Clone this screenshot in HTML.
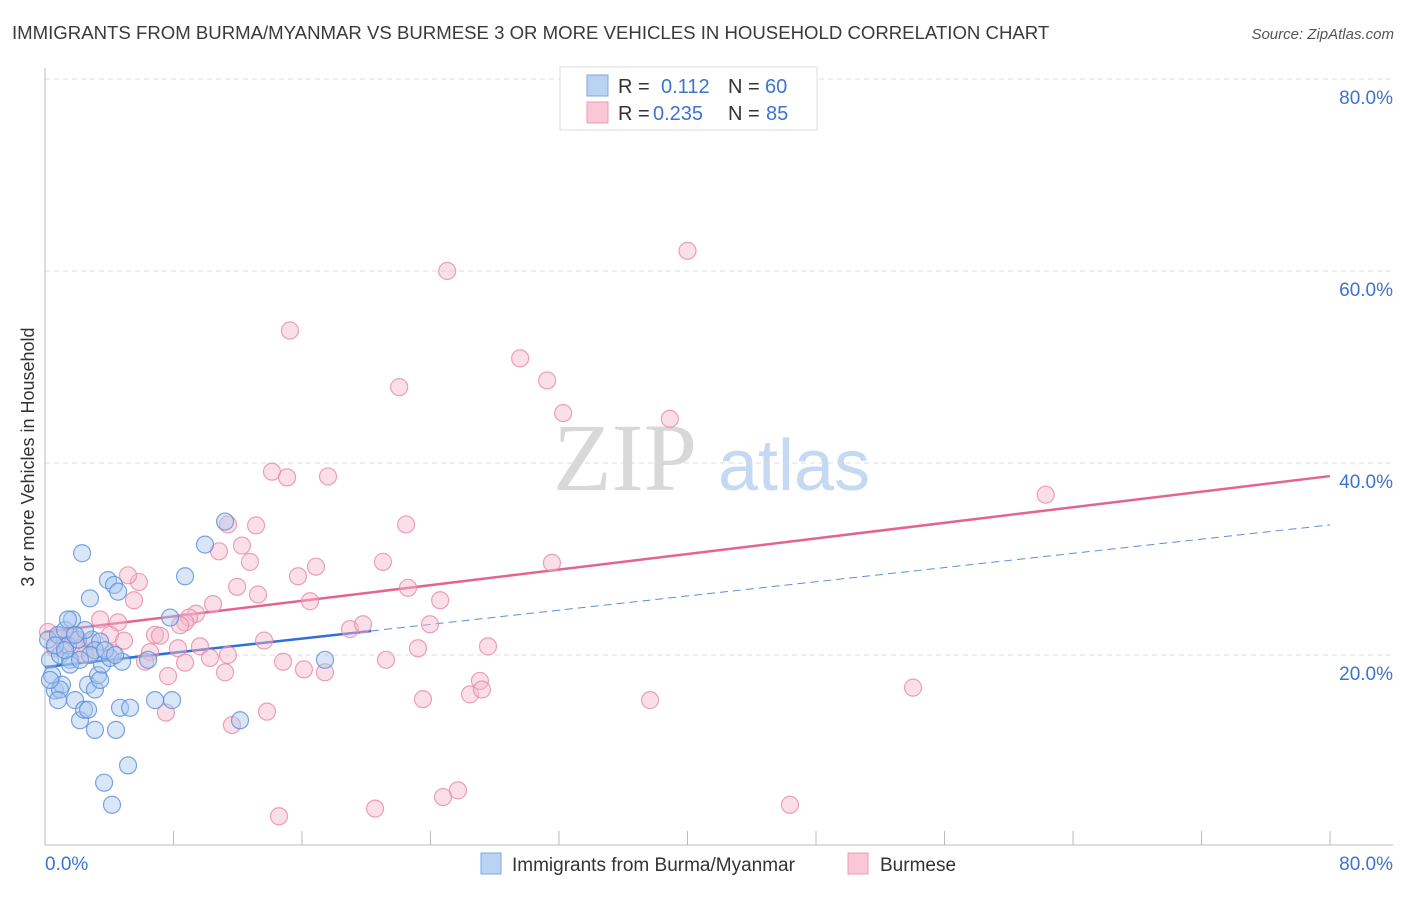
<!DOCTYPE html>
<html><head><meta charset="utf-8">
<style>
body{margin:0;background:#fff;font-family:"Liberation Sans",sans-serif;}
svg text{font-family:"Liberation Sans",sans-serif;}
</style></head>
<body>
<svg id="chart" width="1406" height="892" xmlns="http://www.w3.org/2000/svg">
<text x="12" y="39" font-size="18.6" fill="#3a3a3a">IMMIGRANTS FROM BURMA/MYANMAR VS BURMESE 3 OR MORE VEHICLES IN HOUSEHOLD CORRELATION CHART</text>
<text x="1394" y="39" font-size="15" fill="#555" font-style="italic" text-anchor="end">Source: ZipAtlas.com</text>
<g>
<text x="553" y="490" font-size="96" fill="#d8d8d8" style="font-family:'Liberation Serif',serif">ZIP</text>
<text x="718" y="490" font-size="72" fill="#c5d9f2">atlas</text>
</g>
<g id="grid"></g>
<g id="axes"></g>
<g id="lines"></g>
<g id="pts"></g>
<g>
<rect x="560" y="67" width="257" height="63" fill="#fff" stroke="#ddd"/>
<rect x="587" y="75" width="21" height="21" fill="#b9d3f3" stroke="#7ea7e0"/>
<rect x="587" y="102" width="21" height="21" fill="#f9c7d6" stroke="#ec9bb5"/>
<text x="618" y="93" font-size="20" fill="#333">R =</text>
<text x="661" y="93" font-size="20" fill="#3b74d1">0.112</text>
<text x="728" y="93" font-size="20" fill="#333">N =</text>
<text x="765" y="93" font-size="20" fill="#3b74d1">60</text>
<text x="618" y="120" font-size="20" fill="#333">R =</text>
<text x="653" y="120" font-size="20" fill="#3b74d1">0.235</text>
<text x="728" y="120" font-size="20" fill="#333">N =</text>
<text x="766" y="120" font-size="20" fill="#3b74d1">85</text>
</g>
<g>
<rect x="481" y="853" width="20" height="21" fill="#b9d3f3" stroke="#7ea7e0"/>
<text x="512" y="871" font-size="19" fill="#333">Immigrants from Burma/Myanmar</text>
<rect x="848" y="853" width="20" height="21" fill="#f9c7d6" stroke="#ec9bb5"/>
<text x="880" y="871" font-size="19" fill="#333">Burmese</text>
</g>
<text transform="translate(34,457) rotate(-90)" font-size="18" fill="#333" text-anchor="middle">3 or more Vehicles in Household</text>
</svg>
<script>
const blueX=[0.19,0.31,0.44,0.62,0.81,0.93,1.06,1.25,1.43,1.56,1.68,1.87,2.06,2.18,2.31,2.43,2.68,2.68,2.80,2.93,3.11,3.11,3.30,3.43,3.55,3.68,3.92,4.05,4.17,4.30,4.42,4.55,4.67,4.80,5.17,5.30,6.42,6.85,7.79,7.91,8.72,9.96,11.21,12.14,17.43,3.43,0.93,1.56,0.62,2.49,1.87,0.31,3.11,1.25,0.81,2.80,2.18,3.74,1.43,4.36];
const blueY=[21.6,19.5,17.9,16.3,22.1,20.0,16.9,22.6,21.0,19.5,23.7,15.3,21.6,13.2,30.6,14.3,14.3,16.9,25.9,21.6,16.4,12.2,17.9,17.4,19.0,6.7,27.8,19.7,4.4,27.3,12.2,26.6,14.5,19.3,8.5,14.5,19.5,15.3,23.9,15.3,28.2,31.5,33.9,13.2,19.5,21.4,16.4,19.0,21.0,22.6,22.1,17.4,20.5,20.5,15.3,20.0,19.5,20.5,23.7,20.0];
const pinkX=[15.25,25.04,40.0,29.58,31.26,22.05,32.26,38.9,14.13,15.07,17.62,62.3,11.39,22.48,13.14,12.26,10.83,12.76,21.04,31.56,16.87,15.75,5.85,5.17,11.96,22.6,13.26,5.54,24.6,16.5,10.46,9.4,8.97,8.72,8.41,3.43,4.55,23.97,18.99,19.8,6.85,7.16,4.05,4.92,13.64,0.19,0.93,1.87,2.8,2.18,0.62,23.22,27.58,9.65,6.54,4.23,11.39,8.28,6.23,10.27,8.72,21.23,14.82,16.12,17.43,11.21,7.66,27.08,54.04,26.46,27.2,23.53,37.67,7.53,13.82,11.64,25.71,24.78,20.55,46.38,14.57,3.11,1.56,2.49,1.25];
const pinkY=[53.8,60.0,62.1,50.9,48.6,47.9,45.2,44.6,39.1,38.5,38.6,36.7,33.6,33.6,33.5,31.4,30.8,29.7,29.7,29.6,29.2,28.2,27.6,28.3,27.1,27.0,26.3,25.7,25.7,25.6,25.3,24.3,23.9,23.4,23.1,23.7,23.4,23.2,22.7,23.2,22.1,22.0,22.1,21.5,21.5,22.4,22.0,21.6,21.4,20.7,20.7,20.7,20.9,20.9,20.3,20.2,20.0,20.7,19.3,19.7,19.2,19.5,19.3,18.5,18.2,18.2,17.8,17.3,16.6,15.9,16.4,15.4,15.3,14.0,14.1,12.7,5.9,5.2,4.0,4.4,3.2,20.5,22.0,20.0,21.0];
const yTicks=[20,40,60,80];
const yTickLabels=["20.0%","40.0%","60.0%","80.0%"];
const xTicks=[0,8,16,24,32,40,48,56,64,72,80];
const blueTrend=[18.75,0.185], pinkTrend=[22.4,0.203];
const blueSolidEnd=20.3;
const NS="http://www.w3.org/2000/svg";
const X=v=>45+v/80*1285, Y=v=>847-v/20*192;
function mk(parent,tag,attrs){const e=document.createElementNS(NS,tag);for(const k in attrs)e.setAttribute(k,attrs[k]);document.getElementById(parent).appendChild(e);return e;}
yTicks.forEach((t,i)=>{
 const g=mk('grid','line',{x1:45,x2:1393,y1:Y(t),y2:Y(t),stroke:'#ddd','stroke-dasharray':'5,4'});
 
 
 const tx=mk('axes','text',{x:1393,y:Y(t)+25,'font-size':19,fill:'#3b74d1','text-anchor':'end'});
 tx.textContent=yTickLabels[i];
 
 
});
let a=mk('axes','line',{x1:45,x2:45,y1:68,y2:845,stroke:'#bbb'});


a=mk('axes','line',{x1:45,x2:1393,y1:845,y2:845,stroke:'#bbb'});


xTicks.forEach(t=>{const l=mk('axes','line',{x1:X(t),x2:X(t),y1:831,y2:845,stroke:'#bbb'});
 
 });
let t0=mk('axes','text',{x:45,y:870,'font-size':19,fill:'#3b74d1'});t0.textContent='0.0%';


let t1=mk('axes','text',{x:1393,y:870,'font-size':19,fill:'#3b74d1','text-anchor':'end'});t1.textContent='80.0%';


function pts(xs,ys,fill,stroke,name){xs.forEach((x,i)=>{const c=mk('pts','circle',{cx:X(x),cy:Y(ys[i]),r:8.5,fill:fill,'fill-opacity':0.45,stroke:stroke,'stroke-opacity':0.8,'stroke-width':1.2});
 
 });}
pts(pinkX,pinkY,'#f7b8cb','#e889a8','burmese-point');
pts(blueX,blueY,'#a9c8f0','#5b8fd9','burma-immigrants-point');
const bmax=blueSolidEnd;
let ln=mk('lines','line',{x1:X(0),y1:Y(blueTrend[0]),x2:X(bmax),y2:Y(blueTrend[0]+blueTrend[1]*bmax),stroke:'#2f6fd6','stroke-width':2.5});


ln=mk('lines','line',{x1:X(bmax),y1:Y(blueTrend[0]+blueTrend[1]*bmax),x2:X(80),y2:Y(blueTrend[0]+blueTrend[1]*80),stroke:'#5b8fd9','stroke-width':1,'stroke-dasharray':'8,5'});


ln=mk('lines','line',{x1:X(0),y1:Y(pinkTrend[0]),x2:X(80),y2:Y(pinkTrend[0]+pinkTrend[1]*80),stroke:'#e5648e','stroke-width':2.5});


</script>
</body></html>
